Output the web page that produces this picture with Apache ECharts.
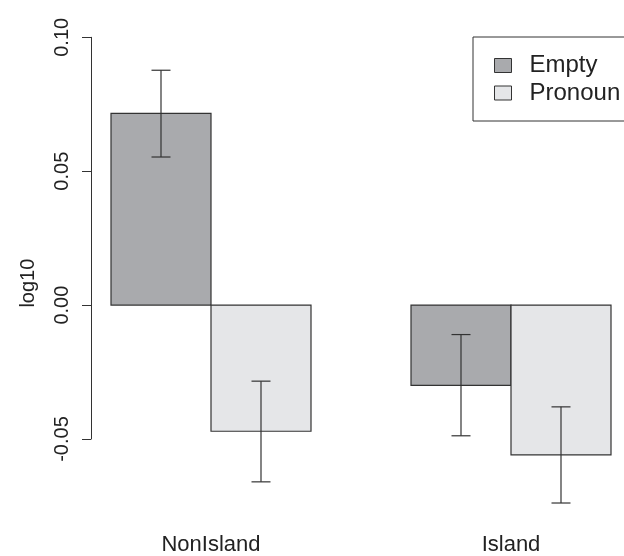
<!DOCTYPE html>
<html>
<head>
<meta charset="utf-8">
<title>log10 barplot</title>
<script src="https://cdn.jsdelivr.net/npm/echarts@6/dist/echarts.min.js"></script>
<style>
  html, body { margin: 0; padding: 0; background: #fff; }
  #main { width: 624px; height: 556px; }
</style>
</head>
<body>
<div id="main"></div>
<script>
// data
var categories = ["NonIsland", "Island"];
var seriesNames = ["Empty", "Pronoun"];
var emptyMean = [0.0716, -0.0300];
var emptyLow = [0.0553, -0.0488];
var emptyHigh = [0.0877, -0.0110];
var pronounMean = [-0.0471, -0.0559];
var pronounLow = [-0.0660, -0.0739];
var pronounHigh = [-0.0284, -0.0380];
var yTicks = [-0.05, 0.00, 0.05, 0.10];

var colors = ["#a9aaad", "#e5e6e8"];
var font = "Liberation Sans, Arial, Helvetica, sans-serif";

// R barplot layout: groups of 2 bars (width 1), a space of 1 before each group
function barX(group, k) { return 1 + group * 3 + k + 0.5; }
function groupX(group) { return 1 + group * 3 + 1; }

function barData(means, k) {
    return means.map(function (v, i) { return [barX(i, k), v]; });
}
function errData(lo, hi, k) {
    return lo.map(function (v, i) { return [barX(i, k), v, hi[i]]; });
}

function renderBar(params, api) {
    var x = api.value(0), v = api.value(1);
    var p0 = api.coord([x - 0.5, 0]);
    var p1 = api.coord([x + 0.5, v]);
    return {
        type: "rect",
        shape: {
            x: p0[0],
            y: Math.min(p0[1], p1[1]),
            width: p1[0] - p0[0],
            height: Math.abs(p1[1] - p0[1])
        },
        style: api.style({ stroke: "#333", lineWidth: 1.2 })
    };
}

function renderErr(params, api) {
    var x = api.value(0);
    var lo = api.coord([x, api.value(1)]);
    var hi = api.coord([x, api.value(2)]);
    var half = 9.5;
    var st = { stroke: "#333", lineWidth: 1.2 };
    return {
        type: "group",
        children: [
            { type: "line", shape: { x1: lo[0], y1: lo[1], x2: hi[0], y2: hi[1] }, style: st },
            { type: "line", shape: { x1: lo[0] - half, y1: lo[1], x2: lo[0] + half, y2: lo[1] }, style: st },
            { type: "line", shape: { x1: hi[0] - half, y1: hi[1], x2: hi[0] + half, y2: hi[1] }, style: st }
        ]
    };
}

var chart = echarts.init(document.getElementById("main"));
var option = {
    animation: false,
    backgroundColor: "#fff",
    textStyle: { fontFamily: font },
    grid: { left: 91, right: 0, top: 37.3, bottom: 116 },
    legend: {
        data: seriesNames,
        orient: "vertical",
        left: 473,
        top: 37,
        padding: [16.5, 80, 16, 21],
        itemGap: 3.5,
        itemWidth: 17,
        itemHeight: 14,
        icon: "rect",
        borderColor: "#333",
        borderWidth: 1,
        backgroundColor: "#fff",
        itemStyle: { borderColor: "#333", borderWidth: 1 },
        textStyle: { fontSize: 24, color: "#222", fontFamily: font, padding: [0, 0, 0, 13] }
    },
    xAxis: {
        type: "value",
        min: 0.8,
        max: 6.13,
        axisLine: { show: false, onZero: false },
        axisTick: { show: false },
        splitLine: { show: false },
        axisLabel: {
            customValues: categories.map(function (c, i) { return groupX(i); }),
            formatter: function (v) {
                var i = Math.round((v - 2) / 3);
                return categories[i] || "";
            },
            margin: 95,
            fontSize: 22,
            color: "#222",
            fontFamily: font
        }
    },
    yAxis: {
        type: "value",
        min: -0.05,
        max: 0.10,
        interval: 0.05,
        name: "log10",
        nameLocation: "middle",
        nameGap: 53,
        nameTextStyle: { fontSize: 20, color: "#222", fontFamily: font, padding: [0, 90, 0, 0] },
        axisLine: { show: true, lineStyle: { color: "#333", width: 1 } },
        axisTick: { show: true, length: 9, lineStyle: { color: "#333", width: 1 } },
        splitLine: { show: false },
        axisLabel: {
            rotate: 90,
            margin: 19,
            fontSize: 20,
            color: "#222",
            fontFamily: font,
            formatter: function (v) { return v.toFixed(2); }
        }
    },
    series: [
        {
            name: seriesNames[0],
            type: "custom",
            renderItem: renderBar,
            itemStyle: { color: colors[0], borderColor: "#333", borderWidth: 1 },
            encode: { x: 0, y: 1 },
            data: barData(emptyMean, 0),
            z: 2
        },
        {
            name: seriesNames[1],
            type: "custom",
            renderItem: renderBar,
            itemStyle: { color: colors[1], borderColor: "#333", borderWidth: 1 },
            encode: { x: 0, y: 1 },
            data: barData(pronounMean, 1),
            z: 2
        },
        {
            name: "errEmpty",
            type: "custom",
            renderItem: renderErr,
            encode: { x: 0, y: [1, 2] },
            data: errData(emptyLow, emptyHigh, 0),
            z: 3
        },
        {
            name: "errPronoun",
            type: "custom",
            renderItem: renderErr,
            encode: { x: 0, y: [1, 2] },
            data: errData(pronounLow, pronounHigh, 1),
            z: 3
        }
    ]
};
chart.setOption(option);
</script>
</body>
</html>
